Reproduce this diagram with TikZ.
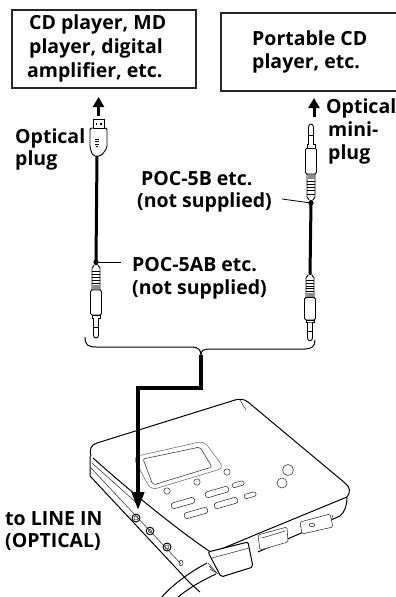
\documentclass[tikz,border=0pt]{standalone}
\usepackage{fontspec}
\setmainfont{Open Sans}
\usetikzlibrary{arrows.meta}
\begin{document}
\begin{tikzpicture}[x=1pt,y=-1pt,
  lbl/.style={anchor=base west, inner sep=0pt, font=\fontsize{19.5}{24}\selectfont\bfseries},
  boxline/.style={draw=black!85, line width=1.1pt, inner sep=0pt},
  cable/.style={line width=3pt, black},
  leader/.style={line width=0.8pt, black},
  uparrow/.style={line width=3pt, -{Triangle[width=11pt,length=10pt]}},
  plugline/.style={line width=0.9pt, black, fill=white},
  dev/.style={line width=1pt, black, line join=round},
  devthin/.style={line width=0.6pt, black!75, line join=round},
  route/.style={line width=4pt, line join=miter, -{Triangle[width=12pt,length=18pt]}},
  miniplug/.pic={
    \draw[plugline] (-1.8,0) -- (-4,3) -- (-4,25) -- (4,25) -- (4,3) -- (1.8,0);
    \foreach \yy in {6,9,12,15,18} \draw[line width=0.5pt] (-4,\yy) -- (4,\yy);
    \fill[black!45] (-3.5,20) rectangle (3.5,24);
    \draw[plugline, rounded corners=1.5pt] (-5.5,25) rectangle (5.5,50);
    \draw[plugline] (-4,50) rectangle (4,53);
    \draw[plugline] (-2.5,53) -- (-2.5,70) .. controls (-2.5,74) and (2.5,74) .. (2.5,70) -- (2.5,53);
    \draw[line width=0.6pt] (-2.5,62) -- (2.5,62);
  }
]
\useasboundingbox (0,0) rectangle (396,597);
\clip (0,0) rectangle (396,597);

% boxes
\node[boxline, draw, minimum width=184pt, minimum height=78pt] (box1) at (104,49) {};
\node[boxline, draw, minimum width=182pt, minimum height=78pt] (box2) at (312,52) {};

% box texts
\node[lbl] (b1a) at (29,29) {CD player, MD};
\node[lbl] (b1b) at (29,53) {player, digital};
\node[lbl] (b1c) at (27,77) {amplifier, etc.};
\node[lbl] (b2a) at (252,45) {Portable CD};
\node[lbl] (b2b) at (252,68) {player, etc.};

% labels
\node[lbl] (op1) at (15,143) {Optical};
\node[lbl] (op2) at (15,165) {plug};
\node[lbl] (poc5b1) at (141,185) {POC-5B etc.};
\node[lbl] (poc5b2) at (137,207) {(not supplied)};
\node[lbl] (poc5ab1) at (132,271) {POC-5AB etc.};
\node[lbl] (poc5ab2) at (132,294) {(not supplied)};
\node[lbl] (om1) at (326,113) {Optical};
\node[lbl] (om2) at (328,136) {mini-};
\node[lbl] (om3) at (328,159) {plug};
\node[lbl] (li1) at (5,525) {to LINE IN};
\node[lbl] (li2) at (5,547) {(OPTICAL)};

% up arrows
\coordinate (arLbase) at (98.5,116);
\coordinate (arLtip) at (98.5,97);
\coordinate (arRbase) at (314,117);
\coordinate (arRtip) at (314,98);
\draw[uparrow] (arLbase) -- (arLtip);
\draw[uparrow] (arRbase) -- (arRtip);

% left cable
\coordinate (optL) at (97,156);
\coordinate (dotL) at (96,262);
\coordinate (plugLtop) at (96,265);
\coordinate (leadL) at (121,262);
\draw[cable] (optL) -- (dotL) -- (plugLtop);
\fill (dotL) circle (2.6);
\draw[leader] (dotL) -- (leadL);
% optical plug
\draw[plugline, rounded corners=2pt] (90,128) -- (107,128) -- (107,148) -- (101,156) -- (93,156) -- (90,148) -- cycle;
\draw[plugline] (93,119) rectangle (104,128);
\fill (95.5,122.5) rectangle (97,124.5);
\fill (100,122.5) rectangle (101.5,124.5);
\draw[line width=0.5pt] (95,139)--(99,139) (95,141.5)--(99,141.5) (95,144)--(99,144) (96,146.5)--(98,146.5);
\pic at (plugLtop) {miniplug};

% right cable
\coordinate (plugRtop) at (311,200);
\coordinate (dotR) at (311,203);
\coordinate (plugRbot) at (310,275);
\coordinate (leadR) at (282,199);
\draw[cable] (plugRtop) -- (dotR) -- (plugRbot);
\fill (dotR) circle (2.6);
\draw[leader] (leadR) -- (dotR);
\pic[yscale=-1.04] at (plugRtop) {miniplug};
\pic[yscale=0.9] at (plugRbot) {miniplug};

% brace
\coordinate (braceL) at (85,337);
\coordinate (braceM) at (201,355);
\coordinate (braceR) at (315,340);
\draw[line width=1pt] (braceL) .. controls (85,345) and (88,347) .. (96,347) -- (192,347)
   .. controls (198,347) and (201,350) .. (braceM);
\draw[line width=1pt] (braceM) .. controls (201,351) and (203,349) .. (210,349) -- (305,349)
   .. controls (312,349) and (315,346) .. (braceR);

% ---------------- device ----------------
% top outline
\draw[dev] (91,456) .. controls (89,449) and (91,445) .. (97,443) -- (235,400)
   .. controls (240,398.5) and (244,399) .. (248,402) -- (345,483)
   .. controls (350,487) and (351,492) .. (347,497);
\draw[devthin] (240,400) -- (246,410);
% top face front edges
\draw[dev] (93,458) .. controls (140,500) and (185,535) .. (212,553);
\draw[dev] (347,497) -- (262,532) -- (214,552);
% left side
\draw[dev] (90,456) -- (90,476) -- (190,583) -- (200,592);
\draw[devthin] (91,468) -- (181,564);
\draw[devthin] (92,463) -- (140,506);
% right front side
\draw[dev] (347,497) .. controls (347,505) and (345,512) .. (340,516) -- (258,552);
\draw[devthin] (333,515) -- (330,525);
% right side connectors
\draw[devthin, fill=white, rounded corners=1.5pt] (300,522) -- (330,514) -- (333,527) -- (302,534) -- cycle;
\draw[devthin] (312,525) ellipse (3 and 1.6);
\draw[devthin, fill=white, rounded corners=1.5pt] (258,535) -- (287,527) -- (288,542) -- (260,550) -- cycle;
\draw[devthin] (262,538) -- (285,531);
% display
\draw[devthin, rounded corners=6pt, black!55] (133,457) -- (204,441) -- (224,468) -- (151,490) -- cycle;
\draw[devthin, rounded corners=2pt] (143,459) -- (200,447) -- (212,467) -- (153,485) -- cycle;
% buttons
\draw[devthin, rounded corners=2.5pt, rotate around={16:(217,492)}] (205,489) rectangle (229,495);
\draw[devthin, rounded corners=2.5pt, rotate around={16:(183,503)}] (171,500) rectangle (195,506);
\draw[devthin, rounded corners=2.5pt, rotate around={16:(226,503)}] (214,500) rectangle (238,506);
\draw[devthin, rounded corners=2.5pt, rotate around={16:(196,513)}] (184,510) rectangle (208,516);
\draw[devthin, rounded corners=1.5pt, rotate around={16:(238,484)}] (232,482) rectangle (244,486.5);
\draw[devthin, rounded corners=1.5pt, rotate around={16:(250,495)}] (244,493) rectangle (256,497.5);
\draw[devthin] (167,491) circle (3.2);
\draw[devthin] (197,482) circle (3.2);
\draw[devthin] (227,472) circle (3.2);
\draw[devthin] (288,470) circle (5.5);
\draw[devthin] (282,483) circle (5);
% jacks
\draw[dev] (136,518) circle (4);
\draw[devthin] (136,518) circle (2);
\draw[dev] (150,531) circle (3.8);
\draw[devthin] (150,531) circle (1.8);
\draw[dev] (167,547) circle (4);
\draw[devthin] (167,547) circle (2);
\draw[devthin] (181,563) ellipse (2 and 3);
% plug at front
\draw[dev, fill=white, rounded corners=2pt] (208,552) -- (248,542) -- (253,567) -- (221,577) -- cycle;
\draw[devthin] (212,558) -- (249,548);
% cable
\draw[dev] (207,563) .. controls (190,572) and (172,585) .. (161,598);
\draw[dev] (216,574) .. controls (199,582) and (186,590) .. (177,598);
\foreach \t in {0,3,6} \draw[devthin] (208+\t*0.3,563+\t) -- (216+\t*0.3,572+\t*0.3);

% thick route arrow
\coordinate (bendA) at (201,388);
\coordinate (bendB) at (138,388);
\coordinate (lineIn) at (138,510);
\draw[route] (braceM) -- (bendA) -- (bendB) -- (lineIn);
\end{tikzpicture}
\end{document}
